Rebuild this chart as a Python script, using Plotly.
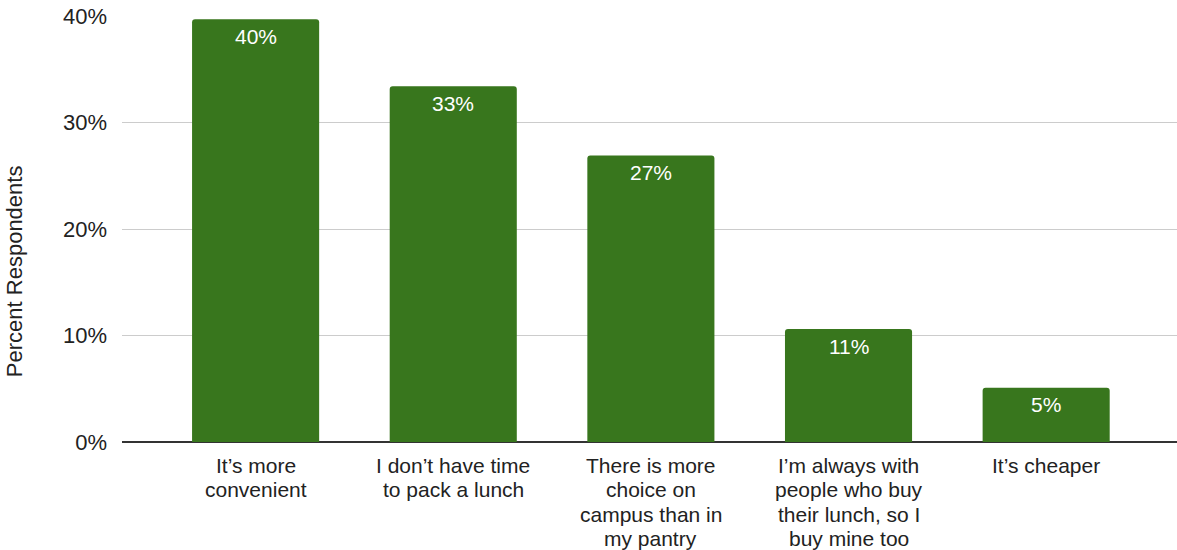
import plotly.graph_objects as go

# Reasons for buying lunch on campus
categories = [
    "It’s more<br>convenient",
    "I don’t have time<br>to pack a lunch",
    "There is more<br>choice on<br>campus than in<br>my pantry",
    "I’m always with<br>people who buy<br>their lunch, so I<br>buy mine too",
    "It’s cheaper",
]
percent = [39.7, 33.4, 26.9, 10.6, 5.1]
y_ticks = [0, 10, 20, 30, 40]
y_tick_labels = ["0%", "10%", "20%", "30%", "40%"]

FONT = "Liberation Sans, Arial, sans-serif"
TEXT_COLOR = "#222222"
LINE_GAP = 24.5  # px between wrapped category label lines

x_pos = list(range(len(categories)))

fig = go.Figure(
    go.Bar(
        x=x_pos,
        y=percent,
        width=0.643,
        marker=dict(color="#38761d", cornerradius=3, line=dict(width=0)),
        hoverinfo="skip",
    )
)

# Value labels just inside the top of each bar
for i, v in enumerate(percent):
    fig.add_annotation(
        x=i,
        xref="x",
        y=v,
        yref="y",
        yanchor="middle",
        xanchor="center",
        yshift=-17,
        text=f"{v:.0f}%",
        showarrow=False,
        font=dict(family=FONT, size=21, color="white"),
    )

# Category labels, one annotation per wrapped line for tight line spacing
for i, label in enumerate(categories):
    for j, line in enumerate(label.split("<br>")):
        fig.add_annotation(
            x=i,
            xref="x",
            y=0,
            yref="paper",
            yanchor="middle",
            xanchor="center",
            yshift=-(23 + j * LINE_GAP),
            text=line,
            showarrow=False,
            font=dict(family=FONT, size=21, color=TEXT_COLOR),
        )

# Axis title, centred on the full chart height
fig.add_annotation(
    x=-0.1024,
    xref="paper",
    y=0.401,
    yref="paper",
    xanchor="center",
    yanchor="middle",
    textangle=-90,
    text="Percent Respondents",
    showarrow=False,
    font=dict(family=FONT, size=22, color=TEXT_COLOR),
)

fig.update_layout(
    width=1177,
    height=550,
    margin=dict(l=122, r=0, t=16, b=108),
    paper_bgcolor="white",
    plot_bgcolor="white",
    showlegend=False,
    font=dict(family=FONT, size=22, color=TEXT_COLOR),
    xaxis=dict(
        range=[-0.676, 4.662],
        showticklabels=False,
        showgrid=False,
        showline=False,
        zeroline=False,
        ticks="",
    ),
    yaxis=dict(
        range=[0, 40],
        tickmode="array",
        tickvals=y_ticks,
        ticktext=y_tick_labels,
        showgrid=True,
        gridcolor="#cccccc",
        gridwidth=1,
        zeroline=True,
        zerolinecolor="#333333",
        zerolinewidth=1.5,
        ticks="",
        ticklabelstandoff=14,
        tickfont=dict(family=FONT, size=22, color=TEXT_COLOR),
    ),
)

fig.write_html("out.html")
